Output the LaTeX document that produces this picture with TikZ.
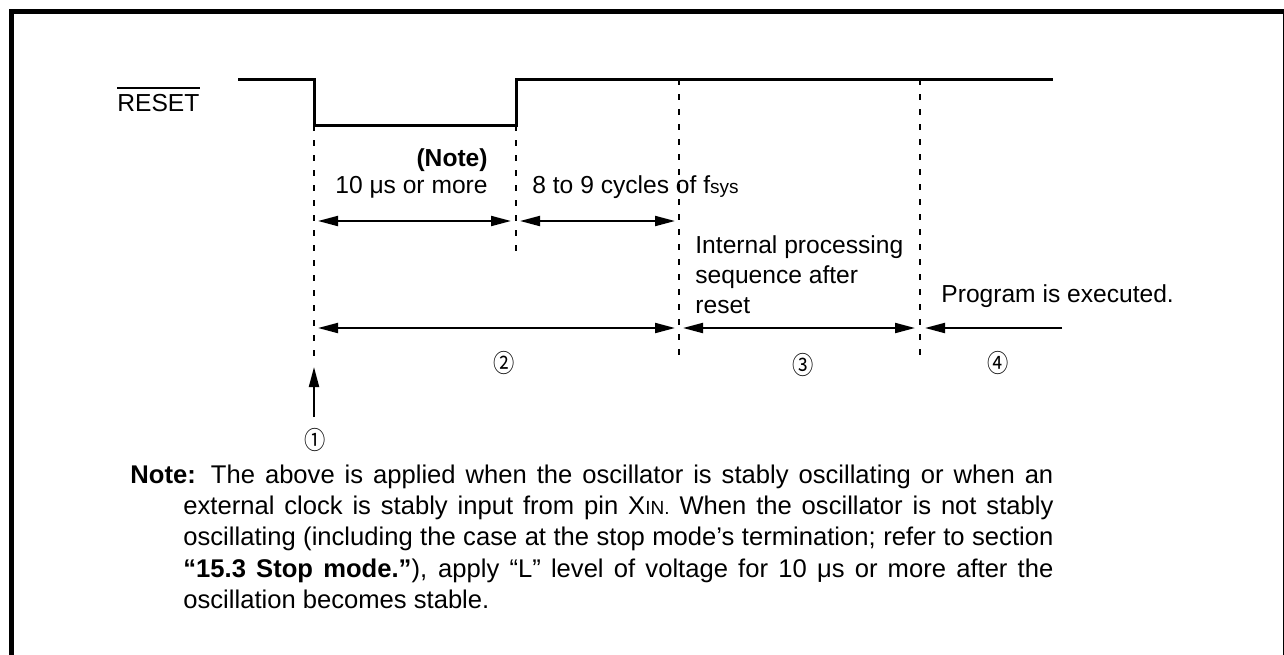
\documentclass[tikz,border=0pt]{standalone}
\usepackage{fontspec}
\setmainfont{Liberation Sans}
\newfontfamily\cjk{Noto Sans CJK JP}
\usetikzlibrary{arrows.meta}
\begin{document}
\begin{tikzpicture}[x=0.5pt,y=-0.5pt,
  sig/.style={line width=1.5pt, line join=miter},
  guide/.style={line width=1.25pt, dash pattern=on 3.2pt off 4.3pt},
  dimline/.style={line width=1pt, {Triangle[length=10pt,width=5pt]}-{Triangle[length=10pt,width=5pt]}},
  oneway/.style={line width=1pt, -{Triangle[length=10pt,width=5pt]}},
  lbl/.style={inner sep=0pt, font=\fontsize{12.3}{15}\selectfont},
  circ/.style={inner sep=0pt, xscale=0.85, font=\cjk\fontsize{12.5}{12.5}\selectfont},
  bar/.style={line width=0.75pt},
  frame/.style={line width=2.5pt}]
\useasboundingbox (0,0) rectangle (1284,654);
\clip (0,0) rectangle (1284,654);
\fill[white] (0,0) rectangle (1284,654);
% outer frame (partly cropped)
\coordinate (f0) at (11.5,11.5);
\coordinate (f1) at (1285.5,700);
\draw[frame] (f0) rectangle (f1);
% RESET waveform
\node[lbl, anchor=base west] (rst) at (117,111) {RESET};
\draw[bar] ([yshift=2.6pt]rst.north west) -- ([yshift=2.6pt]rst.north east);
\coordinate (s0) at (238,79);
\coordinate (fallT) at (314,79);
\coordinate (fallB) at (314,125);
\coordinate (riseB) at (516,125);
\coordinate (riseT) at (516,79);
\coordinate (s1) at (1053,79);
\draw[sig] (s0) -- (fallT) -- (fallB) -- (riseB) -- (riseT) -- (s1);
% dashed guide lines
\coordinate (a1) at (314,358);
\coordinate (b1) at (516,252);
\coordinate (c0) at (679,79);
\coordinate (c1) at (679,360);
\coordinate (d0) at (920,79);
\coordinate (d1) at (920,357);
\draw[guide] (fallB) -- (a1);
\draw[guide] (riseB) -- (b1);
\draw[guide] (c0) -- (c1);
\draw[guide] (d0) -- (d1);
% dimension arrows, first row
\coordinate (r1a) at (318,221);
\coordinate (r1b) at (511,221);
\coordinate (r1c) at (520,221);
\coordinate (r1d) at (675,221);
\draw[dimline] (r1a) -- (r1b);
\draw[dimline] (r1c) -- (r1d);
% dimension arrows, second row
\coordinate (r2a) at (318,328);
\coordinate (r2b) at (675,328);
\coordinate (r2c) at (683,328);
\coordinate (r2d) at (915,328);
\coordinate (r2e) at (1062,328);
\coordinate (r2f) at (925,328);
\draw[dimline] (r2a) -- (r2b);
\draw[dimline] (r2c) -- (r2d);
\draw[oneway] (r2e) -- (r2f);
% reset point arrow
\coordinate (up0) at (314,417);
\coordinate (up1) at (314,367);
\draw[oneway] (up0) -- (up1);
% labels
\node[lbl, anchor=base east] (note) at (488,166) {\textbf{(Note)}};
\node[lbl, anchor=base east] (tenus) at (488,193) {10 μs or more};
\node[lbl, anchor=base west] (cyc) at (532,193) {8 to 9 cycles of f{\fontsize{9.5}{9.5}\selectfont sys}};
\node[lbl, anchor=base west] (ips) at (695,253) {\parbox[t]{200pt}{\raggedright Internal processing\\ sequence after\\ reset}};
\node[lbl, anchor=base west] (prog) at (941,302) {Program is executed.};
\node[circ] (n1) at (315,440) {①};
\node[circ] (n2) at (504,363) {②};
\node[circ] (n3) at (803,365) {③};
\node[circ] (n4) at (998,363) {④};
% note paragraph
\node[inner sep=0pt, anchor=base west] (para) at (130,483) {\parbox[t]{461.5pt}{\fontsize{12.8}{15.7}\selectfont\tolerance=10000\hangindent=26.5pt\hangafter=1\noindent
\textbf{Note:} The above is applied when the oscillator is stably oscillating or when an\linebreak
external clock is stably input from pin X{\fontsize{9.5}{9.5}\selectfont IN.} When the oscillator is not stably\linebreak
oscillating (including the case at the stop mode’s termination; refer to section\linebreak
\textbf{“15.3 Stop mode.”}), apply “L” level of voltage for 10 μs or more after the\linebreak
oscillation becomes stable.}};
\end{tikzpicture}
\end{document}
